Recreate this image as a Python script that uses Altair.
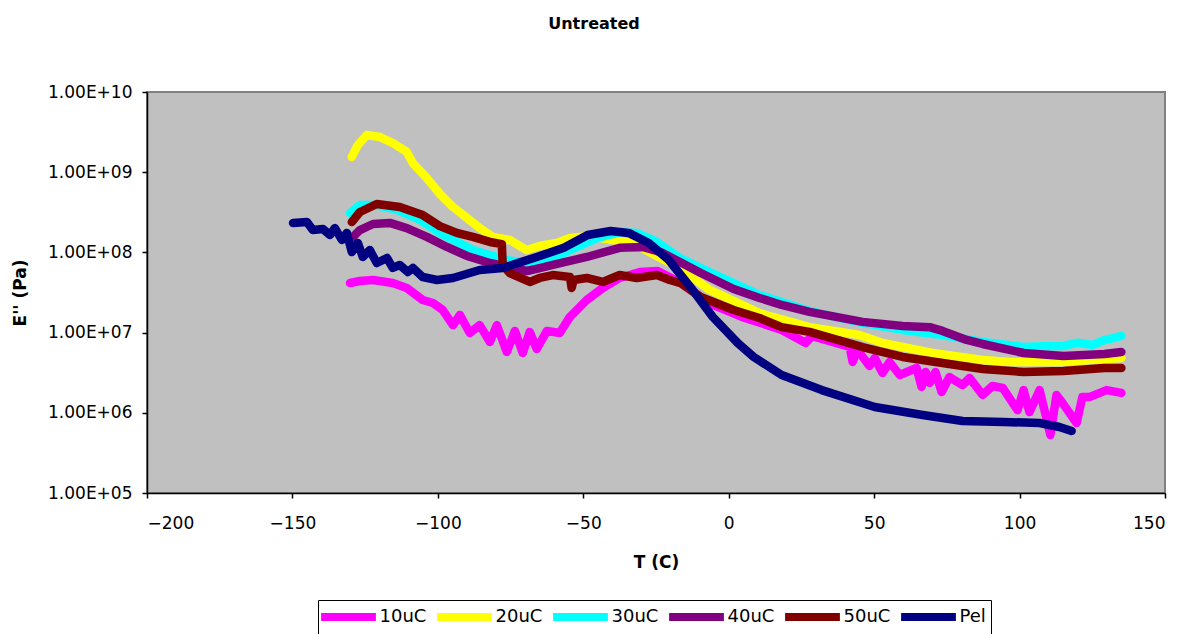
import altair as alt
import pandas as pd

# Loss modulus E'' (Pa) versus temperature T (C) for each dose and the reference film
series_names = ["10uC", "20uC", "30uC", "40uC", "50uC", "Pel"]
series_colors = ["#FF00FF", "#FFFF00", "#00FFFF", "#800080", "#800000", "#000080"]

t_10uc = [-130.2, -126.8, -122.3, -115.5, -110.7, -105.2, -101.7, -98.3, -94.8, -92.4,
          -89.0, -85.6, -82.1, -79.7, -76.3, -73.5, -70.8, -68.4, -66.0, -62.5,
          -58.1, -54.6, -48.8, -43.3, -37.5, -30.6, -24.4, -16.5, -6.9, 4.5,
          18.2, 26.5, 28.5, 41.6, 42.6, 44.3, 48.4, 50.2, 52.9, 55.3,
          58.8, 64.6, 66.3, 67.7, 69.1, 71.1, 73.2, 75.9, 80.4, 82.8,
          87.3, 90.7, 94.2, 99.3, 101.4, 103.4, 106.9, 110.6, 112.7, 114.8,
          119.6, 121.6, 124.0, 129.9, 135.0]
e_10uc = [4.15e7, 4.40e7, 4.53e7, 4.15e7, 3.60e7, 2.55e7, 2.34e7, 1.91e7, 1.24e7, 1.66e7,
          9.89e6, 1.24e7, 7.64e6, 1.24e7, 5.73e6, 1.05e7, 5.57e6, 1.02e7, 6.25e6, 1.05e7,
          9.89e6, 1.57e7, 2.55e7, 3.60e7, 4.80e7, 5.70e7, 5.86e7, 4.15e7, 2.34e7, 1.57e7,
          1.08e7, 7.41e6, 9.08e6, 6.61e6, 4.30e6, 6.07e6, 3.84e6, 4.82e6, 3.13e6, 4.30e6,
          2.96e6, 3.62e6, 2.10e6, 3.23e6, 2.36e6, 3.23e6, 1.82e6, 2.79e6, 2.22e6, 2.72e6,
          1.67e6, 2.16e6, 2.04e6, 1.08e6, 1.92e6, 1.02e6, 1.92e6, 5.28e5, 1.67e6, 1.32e6,
          7.46e5, 1.57e6, 1.57e6, 1.92e6, 1.77e6]

t_20uc = [-129.6, -127.5, -124.4, -119.9, -115.5, -110.7, -108.6, -103.8, -99.3, -94.8,
          -90.0, -85.6, -81.1, -75.3, -69.4, -65.0, -59.1, -54.6, -47.8, -39.9,
          -33.0, -25.4, -16.8, -6.5, 10.6, 27.8, 45.0, 52.9, 70.1, 87.3,
          96.6, 113.7, 135.0]
e_20uc = [1.55e9, 2.18e9, 2.91e9, 2.75e9, 2.31e9, 1.79e9, 1.30e9, 8.47e8, 5.35e8, 3.68e8,
          2.69e8, 2.01e8, 1.56e8, 1.43e8, 1.07e8, 1.20e8, 1.31e8, 1.51e8, 1.60e8, 1.43e8,
          1.31e8, 9.29e7, 6.38e7, 3.40e7, 1.75e7, 1.17e7, 9.33e6, 7.41e6, 5.57e6, 4.55e6,
          4.30e6, 4.30e6, 4.82e6]

t_30uc = [-130.2, -126.8, -121.6, -114.8, -106.2, -99.3, -88.0, -76.3, -69.4, -59.1,
          -54.6, -45.4, -37.5, -31.6, -24.7, -16.8, -9.6, 1.7, 10.6, 18.2,
          27.8, 32.0, 46.0, 59.8, 73.5, 87.3, 101.4, 108.0, 115.1, 120.0,
          125.0, 129.2, 132.0, 135.0]
e_30uc = [3.10e8, 3.90e8, 3.90e8, 3.48e8, 2.54e8, 1.75e8, 1.07e8, 8.04e7, 7.38e7, 8.77e7,
          1.07e8, 1.51e8, 1.79e8, 1.75e8, 1.35e8, 8.51e7, 6.38e7, 4.15e7, 2.94e7, 2.41e7,
          1.86e7, 1.71e7, 1.32e7, 1.08e7, 9.33e6, 7.64e6, 6.61e6, 6.75e6, 6.81e6, 7.5e6,
          7.0e6, 8.09e6, 8.5e6, 9.08e6]

t_40uc = [-129.2, -126.8, -122.3, -116.5, -110.7, -103.8, -96.9, -90.0, -82.1, -74.2,
          -69.4, -65.0, -60.5, -48.8, -37.5, -29.6, -23.4, -16.8, -9.6, 1.7,
          10.6, 18.2, 27.8, 46.0, 59.8, 69.1, 73.5, 81.8, 87.3, 101.4,
          115.1, 129.2, 135.0]
e_40uc = [1.56e8, 1.90e8, 2.26e8, 2.33e8, 2.01e8, 1.56e8, 1.17e8, 9.02e7, 7.38e7, 6.38e7,
          5.86e7, 6.38e7, 6.97e7, 8.77e7, 1.14e8, 1.17e8, 1.01e8, 7.59e7, 5.53e7, 3.50e7,
          2.70e7, 2.21e7, 1.81e7, 1.36e7, 1.21e7, 1.17e7, 1.05e7, 8.09e6, 7.21e6, 5.57e6,
          5.11e6, 5.41e6, 5.73e6]

t_50uc = [-129.6, -126.8, -121.0, -113.1, -105.2, -99.3, -93.5, -88.0, -82.1, -78.0,
          -77.7, -75.3, -68.4, -65.0, -60.5, -54.6, -54.0, -53.3, -48.8, -43.3,
          -37.5, -31.6, -24.7, -20.3, -16.5, -9.6, 1.7, 10.6, 18.2, 27.8,
          46.0, 59.8, 73.5, 87.3, 101.4, 115.1, 129.2, 135.0]
e_50uc = [2.39e8, 3.19e8, 4.01e8, 3.68e8, 2.92e8, 2.13e8, 1.75e8, 1.56e8, 1.35e8, 1.27e8,
          6.97e7, 5.53e7, 4.28e7, 4.80e7, 5.22e7, 4.93e7, 3.60e7, 4.53e7, 4.80e7, 4.28e7,
          5.22e7, 4.80e7, 5.22e7, 4.53e7, 4.15e7, 2.78e7, 1.91e7, 1.52e7, 1.17e7, 1.02e7,
          6.61e6, 4.97e6, 4.18e6, 3.52e6, 3.23e6, 3.32e6, 3.62e6, 3.62e6]

t_pel = [-149.8, -145.0, -143.0, -139.5, -137.1, -135.4, -133.0, -131.3, -129.6, -127.5,
         -125.8, -123.4, -121.0, -117.5, -115.5, -113.1, -110.3, -108.6, -105.2, -100.3,
         -94.8, -85.6, -77.7, -66.0, -56.7, -48.5, -40.6, -34.4, -27.5, -20.6,
         -12.4, -5.5, 3.1, 8.6, 18.2, 32.0, 50.2, 66.7, 80.4, 94.5,
         106.9, 113.7, 117.9]
e_pel = [2.33e8, 2.39e8, 1.90e8, 1.96e8, 1.65e8, 2.01e8, 1.43e8, 1.75e8, 1.01e8, 1.31e8,
         8.77e7, 1.07e8, 7.38e7, 8.51e7, 6.40e7, 6.97e7, 5.70e7, 6.40e7, 4.93e7, 4.53e7,
         4.80e7, 6.04e7, 6.38e7, 8.77e7, 1.14e8, 1.65e8, 1.85e8, 1.75e8, 1.31e8, 8.04e7,
         3.40e7, 1.57e7, 7.41e6, 4.97e6, 2.96e6, 1.92e6, 1.18e6, 9.40e5, 7.91e5, 7.67e5,
         7.46e5, 6.65e5, 5.93e5]

y_ticks = [1e5, 1e6, 1e7, 1e8, 1e9, 1e10]
x_ticks = [-200, -150, -100, -50, 0, 50, 100, 150]

temps = [t_10uc, t_20uc, t_30uc, t_40uc, t_50uc, t_pel]
mods = [e_10uc, e_20uc, e_30uc, e_40uc, e_50uc, e_pel]

rows = []
for name, ts, es in zip(series_names, temps, mods):
    for i, (t, e) in enumerate(zip(ts, es)):
        rows.append({"series": name, "T": t, "E": e, "idx": i})
df = pd.DataFrame(rows)

font = "DejaVu Sans"

exp_label = ("'1.00E+' + (round(log(datum.value) / LN10) < 10 ? '0' : '') "
             "+ round(log(datum.value) / LN10)")

# wide flat swatch: a horizontal stroke drawn longer than the symbol's nominal box
swatch = "M-3.5,0H3.5"

chart = (
    alt.Chart(df)
    .mark_line(strokeWidth=8.5, strokeCap="round", strokeJoin="round")
    .encode(
        x=alt.X(
            "T:Q",
            scale=alt.Scale(domain=[-200, 150], nice=False, zero=False),
            axis=alt.Axis(title="T (C)", values=x_ticks, format="d",
                          labelPadding=17, titlePadding=23),
        ),
        y=alt.Y(
            "E:Q",
            scale=alt.Scale(type="log", domain=[1e5, 1e10], nice=False),
            axis=alt.Axis(title="E'' (Pa)", values=y_ticks, labelExpr=exp_label,
                          labelPadding=10, titlePadding=18),
        ),
        color=alt.Color(
            "series:N",
            scale=alt.Scale(domain=series_names, range=series_colors),
            legend=alt.Legend(
                title=None, orient="none", legendX=171, legendY=508,
                direction="horizontal", symbolType=swatch, symbolSize=245,
                symbolStrokeWidth=8, symbolOffset=13.5, labelFont=font,
                labelFontSize=18, labelColor="black", labelOffset=19,
                columnPadding=-6, padding=5, strokeColor="black",
                fillColor="white", cornerRadius=0, labelLimit=0,
            ),
        ),
        order="idx:Q",
    )
    .properties(
        width=1018,
        height=401,
        autosize=alt.AutoSizeParams(type="none"),
        padding={"left": 147, "top": 92, "right": 21, "bottom": 141},
        title=alt.TitleParams(
            "Untreated", font=font, fontSize=16, fontWeight="bold", color="black",
            anchor="middle", dx=-62, offset=35, baseline="bottom",
        ),
    )
    .configure(background="white")
    .configure_view(fill="#C0C0C0", stroke="#808080", strokeWidth=2)
    .configure_axis(
        grid=False, domainColor="black", domainWidth=1.5, tickColor="black",
        tickSize=5, tickWidth=1.5, labelFont=font, labelFontSize=17,
        labelColor="black", titleFont=font, titleFontSize=17,
        titleFontWeight="bold", titleColor="black",
    )
)

chart.save("out.html", embed_options={"renderer": "svg", "actions": False})
